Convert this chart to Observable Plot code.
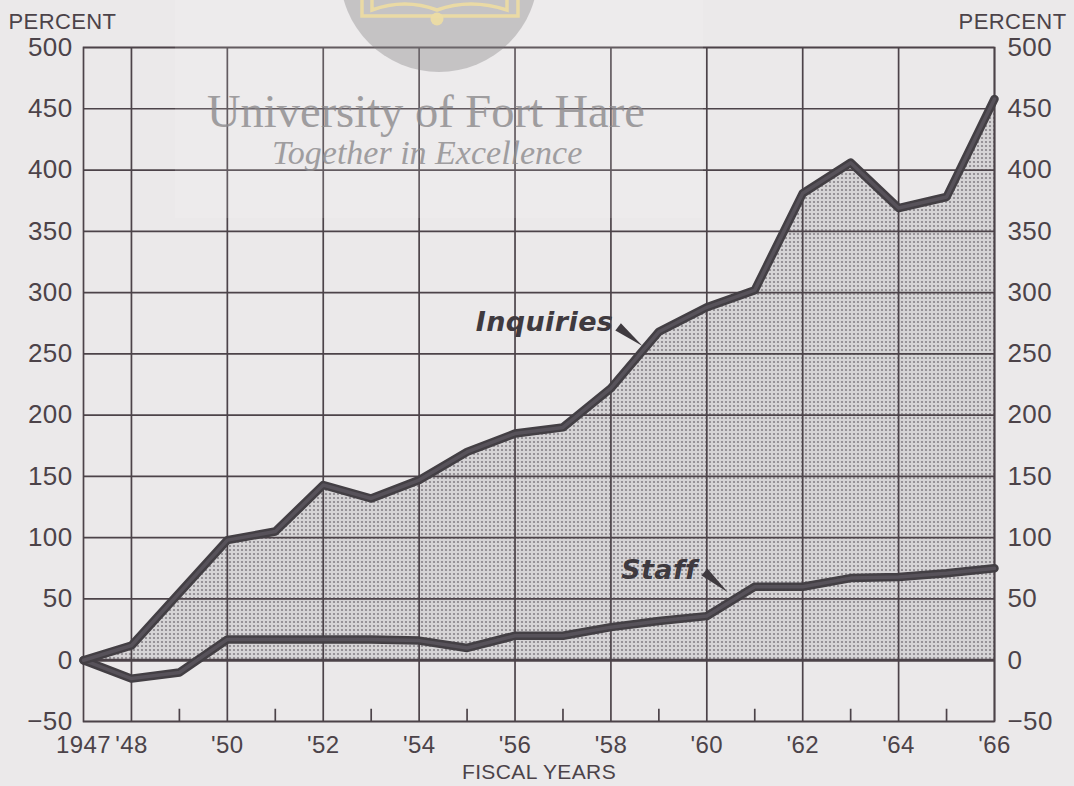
<!DOCTYPE html>
<html>
<head>
<meta charset="utf-8">
<script src="https://cdn.jsdelivr.net/npm/d3@7"></script>
<script src="https://cdn.jsdelivr.net/npm/@observablehq/plot@0.6"></script>
<style>
  html, body { margin: 0; padding: 0; background: #ebe9ea; }
  #wrap { position: relative; width: 1074px; height: 786px; overflow: hidden; background: #ebe9ea; }
  #chart svg { display: block; }
  #wm { position: absolute; left: 0; top: 0; pointer-events: none; }
</style>
</head>
<body>
<div id="wrap">
  <div id="chart"></div>
  <svg id="wm" width="1074" height="786" xmlns="http://www.w3.org/2000/svg">
    <rect x="175" y="0" width="528" height="218" fill="#ffffff" opacity="0.13"></rect>
    <circle cx="439" cy="-27" r="99" fill="#7a777b" opacity="0.35"></circle>
    <g fill="none" stroke="#ecdca4" stroke-width="3.5" opacity="0.95">
      <rect x="362" y="-30" width="156" height="46"></rect>
      <path d="M372 -10 L372 10 Q405 -2 437 10 Q470 -2 507 10 L507 -10"></path>
    </g>
    <circle cx="437" cy="19" r="6.5" fill="#ecdca4" opacity="0.95"></circle>
    <text x="207" y="127" font-family="'Liberation Serif', 'DejaVu Serif', serif" font-size="46.5" fill="#8c8a8d" opacity="0.8">University of Fort Hare</text>
    <text x="272" y="164" font-family="'Liberation Serif', 'DejaVu Serif', serif" font-style="italic" font-size="34" fill="#8c8a8d" opacity="0.8">Together in Excellence</text>
  </svg>
</div>
<script>
// ---- data ----
const years      = [1947, 1948, 1949, 1950, 1951, 1952, 1953, 1954, 1955, 1956, 1957, 1958, 1959, 1960, 1961, 1962, 1963, 1964, 1965, 1966];
const inquiries  = [0, 12, 55, 98, 105, 143, 132, 147, 170, 185, 190, 222, 268, 288, 302, 381, 406, 369, 378, 458];
const staff      = [0, -15, -10, 17, 17, 17, 17, 16, 10, 20, 20, 27, 32, 36, 60, 60, 67, 68, 71, 75];

const yTicks      = [-50, 0, 50, 100, 150, 200, 250, 300, 350, 400, 450, 500];
const xTickYears  = [1947, 1948, 1950, 1952, 1954, 1956, 1958, 1960, 1962, 1964, 1966];
const xTickLabels = ["1947", "'48", "'50", "'52", "'54", "'56", "'58", "'60", "'62", "'64", "'66"];
const gridYears   = [1948, 1950, 1952, 1954, 1956, 1958, 1960, 1962, 1964, 1966];
const minorYears  = [1949, 1951, 1953, 1955, 1957, 1959, 1961, 1963, 1965];

// series annotation labels (in data units)
const labelNames   = ["Inquiries", "Staff"];
const labelYears   = [1958.05, 1959.8];
const labelValues  = [276, 73];
const pointerYears = [1958.15, 1959.95];
const pointerValues= [272, 72];

// ---- build ----
const data = years.map((year, i) => ({year, inquiries: inquiries[i], staff: staff[i]}));
const labels = labelNames.map((name, i) => ({name, x: labelYears[i], y: labelValues[i], px: pointerYears[i], py: pointerValues[i]}));
const xLabelMap = new Map(xTickYears.map((y, i) => [y, xTickLabels[i]]));

const ink = "#4c4349";
const lineInk = "#433f44";
const font = "'Liberation Sans', Arial, sans-serif";

const plot = Plot.plot({
  width: 1074,
  height: 786,
  marginLeft: 83,
  marginRight: 80,
  marginTop: 47,
  marginBottom: 65,
  style: {background: "transparent", fontFamily: font, color: ink, overflow: "visible"},
  x: {domain: [1947, 1966]},
  y: {domain: [-50, 500]},
  marks: [
    Plot.areaY(data, {x: "year", y1: 0, y2: "inquiries", fill: "url(#dots)"}),
    Plot.ruleY(yTicks, {stroke: ink, strokeWidth: 1.7}),
    Plot.ruleY([0], {stroke: ink, strokeWidth: 3.2}),
    Plot.ruleX(gridYears, {y1: -50, y2: 500, stroke: ink, strokeWidth: 1.7}),
    Plot.ruleX(minorYears, {y1: -50, y2: -40, stroke: ink, strokeWidth: 1.7}),
    Plot.frame({stroke: ink, strokeWidth: 1.7}),
    Plot.line(data, {x: "year", y: "staff", stroke: lineInk, strokeWidth: 8.5, strokeLinejoin: "round", strokeLinecap: "round"}),
    Plot.line(data, {x: "year", y: "staff", stroke: "#57525a", strokeWidth: 3.5, strokeLinejoin: "round"}),
    Plot.line(data, {x: "year", y: "inquiries", stroke: lineInk, strokeWidth: 8.5, strokeLinejoin: "round", strokeLinecap: "round"}),
    Plot.line(data, {x: "year", y: "inquiries", stroke: "#57525a", strokeWidth: 3.5, strokeLinejoin: "round"}),
    Plot.text(labels, {x: "x", y: "y", text: "name", textAnchor: "end", fontSize: 27, fontWeight: "bold", fontStyle: "italic",
      fontFamily: "'DejaVu Sans', sans-serif", fill: "#3f3a3f"}),
    Plot.vector(labels, {x: "px", y: "py", shape: "spike", anchor: "start", r: 4.5, length: 31,
      rotate: (d, i) => i === 0 ? 128 : 131, fill: "#3f3a3f", stroke: "none"}),
    Plot.axisY(yTicks, {anchor: "left", tickSize: 0, tickPadding: 11, fontSize: 26, label: null, fill: ink}),
    Plot.axisY(yTicks, {anchor: "right", tickSize: 0, tickPadding: 13, fontSize: 26, label: null, fill: ink}),
    Plot.axisX(xTickYears, {anchor: "bottom", tickSize: 0, tickPadding: 14, fontSize: 24, label: null, fill: ink,
      tickFormat: d => xLabelMap.get(d)}),
    Plot.text(["PERCENT"], {frameAnchor: "top-left", textAnchor: "start", lineAnchor: "middle", dx: -75, dy: -26,
      fontSize: 22, fill: ink}),
    Plot.text(["PERCENT"], {frameAnchor: "top-right", textAnchor: "end", lineAnchor: "middle", dx: 72, dy: -26,
      fontSize: 22, fill: ink}),
    Plot.text(["FISCAL YEARS"], {frameAnchor: "bottom", lineAnchor: "middle", dy: 51, fontSize: 21, fill: ink})
  ]
});

const root = plot.tagName.toLowerCase() === "svg" ? plot : plot.querySelector("svg");
const svg = d3.select(root);
svg.selectAll("text").style("letter-spacing", "0.4px");
const defs = svg.insert("defs", ":first-child");
const pat = defs.append("pattern").attr("id", "dots").attr("patternUnits", "userSpaceOnUse").attr("width", 4).attr("height", 4);
pat.append("rect").attr("width", 4).attr("height", 4).attr("fill", "#d6d4d6");
pat.append("circle").attr("cx", 2).attr("cy", 2).attr("r", 1.1).attr("fill", "#878388");

document.getElementById("chart").appendChild(plot);
</script>
</body>
</html>
